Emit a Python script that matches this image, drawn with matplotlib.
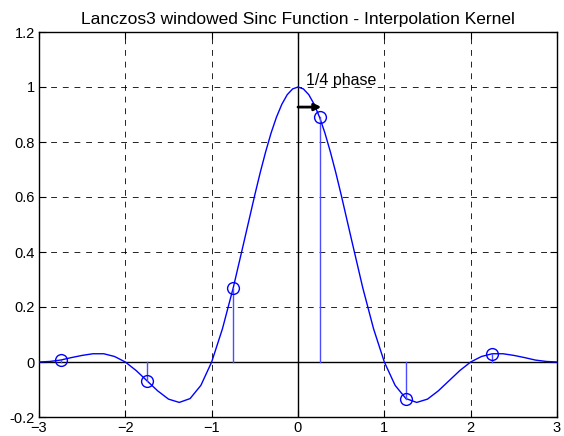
import matplotlib
matplotlib.use('Agg')
import matplotlib.pyplot as plt

# kernel curve, values
curve_x = [-3.0, -2.875, -2.75, -2.625, -2.5, -2.375, -2.25, -2.125, -2.0,
           -1.875, -1.75, -1.625, -1.5, -1.375, -1.25, -1.125, -1.0,
           -0.875, -0.75, -0.625, -0.5, -0.4375, -0.375, -0.3125, -0.25,
           -0.1875, -0.125, -0.0625, 0.0,
           0.0625, 0.125, 0.1875, 0.25, 0.3125, 0.375, 0.4375, 0.5,
           0.625, 0.75, 0.875, 1.0, 1.125, 1.25, 1.375, 1.5, 1.625, 1.75,
           1.875, 2.0, 2.125, 2.25, 2.375, 2.5, 2.625, 2.75, 2.875, 3.0]
curve_y = [0.0, 0.002, 0.007, 0.016, 0.024, 0.030, 0.030, 0.020, 0.0,
           -0.031, -0.068, -0.105, -0.135, -0.147, -0.133, -0.085, 0.0,
           0.121, 0.270, 0.438, 0.608, 0.689, 0.764, 0.832, 0.890,
           0.937, 0.972, 0.993, 1.0,
           0.993, 0.972, 0.937, 0.890, 0.832, 0.764, 0.689, 0.608,
           0.438, 0.270, 0.121, 0.0, -0.085, -0.133, -0.147, -0.135, -0.105, -0.068,
           -0.031, 0.0, 0.020, 0.030, 0.030, 0.024, 0.016, 0.007, 0.002, 0.0]

# samples at 1/4 phase
sample_x = [-2.75, -1.75, -0.75, 0.25, 1.25, 2.25]
sample_y = [0.007, -0.068, 0.270, 0.890, -0.133, 0.030]

x_ticks = [-3, -2, -1, 0, 1, 2, 3]
y_ticks = [-0.2, 0, 0.2, 0.4, 0.6, 0.8, 1, 1.2]
y_labels = ['-0.2', '0', '0.2', '0.4', '0.6', '0.8', '1', '1.2']

plt.rcParams['font.family'] = ['Liberation Sans', 'DejaVu Sans']
plt.rcParams['font.size'] = 10

fig = plt.figure(figsize=(5.64, 4.36), dpi=100)
ax = fig.add_axes([39 / 564, 19 / 436, 518 / 564, 385 / 436])

ax.plot(curve_x, curve_y, color='#0000ff', lw=1, zorder=3)

for sx, sy in zip(sample_x, sample_y):
    ax.plot([sx, sx], [0, sy], color='#4d4dff', lw=1, zorder=3)
ax.plot(sample_x, sample_y, 'o', mfc='none', mec='#0000ff', ms=8.5, mew=1, zorder=4)

ax.axhline(0, color='black', lw=1, zorder=2)
ax.axvline(0, color='black', lw=1, zorder=2)

ax.annotate('', xy=(0.27, 0.927), xytext=(0.0, 0.927),
            arrowprops=dict(arrowstyle='-|>', color='black', lw=2,
                            mutation_scale=10, shrinkA=0, shrinkB=0),
            zorder=5)
ax.text(0.09, 0.995, '1/4 phase', fontsize=11.5, va='bottom', ha='left')

ax.set_xlim(-3, 3)
ax.set_ylim(-0.2, 1.2)
ax.set_xticks(x_ticks)
ax.set_yticks(y_ticks)
ax.set_yticklabels(y_labels)
ax.grid(True, color='black', linestyle=(0, (7, 7)), lw=0.6)
ax.tick_params(direction='in', length=5, top=True, right=True, labelsize=10.5, pad=3)
for s in ax.spines.values():
    s.set_linewidth(1)

ax.set_title('Lanczos3 windowed Sinc Function - Interpolation Kernel', fontsize=12.5, pad=6)

fig.savefig('out.png', dpi=100)
